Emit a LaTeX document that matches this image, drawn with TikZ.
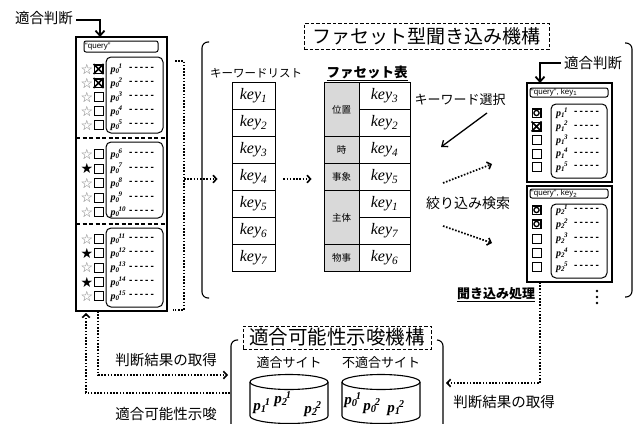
\documentclass[tikz,border=0pt]{standalone}
\usepackage{fontspec}
\setmainfont{Liberation Serif}
\newfontfamily\jp{Noto Sans CJK JP}
\newfontfamily\symf{DejaVu Sans}
\newfontfamily\sansf{Liberation Sans}
\usetikzlibrary{arrows.meta}
\newcommand\pq[2]{p\textsubscript{#1}\kern-0.12em\textsuperscript{#2}}
\newcommand\dshs{-\kern2pt-\kern2pt-\kern2pt-\kern2pt-}
\tikzset{
  x=1pt,y=-1pt,
  jlbl/.style={font=\jp\fontsize{14.5}{14.5}\selectfont, inner sep=0pt},
  outbox/.style={draw, line width=1.1pt, inner sep=0pt},
  rbox/.style={draw, line width=1pt, rounded corners=5pt, inner sep=0pt},
  qbox/.style={draw, line width=1pt, rounded corners=2pt, inner sep=0pt},
  cbx/.style={draw, line width=0.8pt, minimum size=9pt, inner sep=0pt},
  cbxb/.style={draw, line width=1.5pt, minimum size=8.5pt, inner sep=0pt},
  starw/.style={font=\symf\fontsize{14}{14}\selectfont, text=black!55, inner sep=0pt},
  starb/.style={font=\symf\fontsize{14}{14}\selectfont, text=black, inner sep=0pt},
  plab/.style={font=\bfseries\itshape\fontsize{10}{10}\selectfont, inner sep=0pt, anchor=west},
  dshlab/.style={font=\sansf\bfseries\fontsize{10}{10}\selectfont, inner sep=0pt, anchor=west},
  dotln/.style={line width=1.7pt, dash pattern=on 1.6pt off 1.6pt},
  dtip/.style={-{Straight Barb[length=3.5pt,width=7.5pt,line width=1.6pt]}},
  keycell/.style={draw, line width=0.8pt, minimum width=43pt, minimum height=27pt, inner sep=0pt, font=\itshape\fontsize{16}{16}\selectfont},
  fkcell/.style={draw, line width=0.8pt, minimum width=51pt, minimum height=27pt, inner sep=0pt, font=\itshape\fontsize{16}{16}\selectfont},
  catcell/.style={draw, line width=0.8pt, fill=black!15, minimum width=35pt, inner sep=0pt, font=\jp\fontsize{9.5}{9.5}\selectfont},
  qtext/.style={font=\sansf\fontsize{8}{8}\selectfont, inner sep=0pt, anchor=west},
  ttl/.style={draw, dash pattern=on 3.5pt off 2pt, line width=0.9pt, inner sep=0pt, font=\jp\fontsize{19}{19}\selectfont},
  brk/.style={line width=1.1pt, rounded corners=6pt},
  cyl/.style={line width=1.1pt},
  cyltext/.style={font=\bfseries\itshape\fontsize{15}{15}\selectfont, inner sep=0pt},
}
\newcommand\lrow[4]{%
  \ifnum#2=1\relax \node[starb] (st#4) at (87,#1) {★};\else \node[starw] (st#4) at (87,#1) {☆};\fi
  \ifnum#3=1\relax
    \node[cbxb] (cb#4) at (98.5,#1) {};
    \draw[line width=1.5pt] (cb#4.north west)--(cb#4.south east) (cb#4.north east)--(cb#4.south west);
  \else \node[cbx] (cb#4) at (98.5,#1) {};\fi
  \node[plab] (pl#4) at (110.5,#1) {\pq{0}{#4}};
  \node[dshlab] (dl#4) at (129,#1) {\dshs};
}
\newcommand\rrow[4]{%
  \ifcase#2\relax \node[cbx] (rc#3x#4) at (536.5,#1) {};
  \or \node[cbxb] (rc#3x#4) at (536.5,#1) {}; \draw[line width=1.3pt] (rc#3x#4.center) circle (2.6pt);
  \or \node[cbxb] (rc#3x#4) at (536.5,#1) {};
      \draw[line width=1.5pt] (rc#3x#4.north west)--(rc#3x#4.south east) (rc#3x#4.north east)--(rc#3x#4.south west);
  \fi
  \node[plab] (rp#3x#4) at (556,#1) {\pq{#3}{#4}};
  \node[dshlab] (rd#3x#4) at (574,#1) {\dshs};
}
\begin{document}
\begin{tikzpicture}
\useasboundingbox (0,0) rectangle (637,423);
\fill[white] (0,0) rectangle (637,423);

% ---------- left panel ----------
\node[jlbl] (jl1) at (44,18) {適合判断};
\node[outbox, minimum width=91pt, minimum height=274pt] (lpanel) at (121.5,174) {};
\coordinate (a1) at (100,37);
\draw[line width=1.8pt, -{Straight Barb[length=5pt,width=9pt]}] ([xshift=3pt,yshift=-2pt]jl1.east) -| (a1);
\node[qbox, minimum width=74pt, minimum height=11pt] (lq) at (121,46.5) {};
\node[qtext] (lqt) at (85,46.5) {“query”};
\draw[line width=1.2pt, dash pattern=on 4pt off 2.5pt] (76,138) -- (167,138);
\draw[line width=1.2pt, dash pattern=on 4pt off 2.5pt] (76,224) -- (167,224);
\node[rbox, minimum width=57pt, minimum height=76pt] (ls1) at (134.5,95) {};
\node[rbox, minimum width=57pt, minimum height=76pt] (ls2) at (134.5,180) {};
\node[rbox, minimum width=57pt, minimum height=79pt] (ls3) at (134.5,267.5) {};
\lrow{69}{0}{1}{1}
\lrow{83}{0}{1}{2}
\lrow{97}{0}{0}{3}
\lrow{111}{0}{0}{4}
\lrow{125}{0}{0}{5}
\lrow{154}{0}{0}{6}
\lrow{168.5}{1}{0}{7}
\lrow{183}{0}{0}{8}
\lrow{197.5}{0}{0}{9}
\lrow{212}{0}{0}{10}
\lrow{239}{0}{0}{11}
\lrow{253}{1}{0}{12}
\lrow{267.5}{0}{0}{13}
\lrow{282}{1}{0}{14}
\lrow{296}{0}{0}{15}

% dotted bracket right of left panel
\coordinate (db1) at (175,61);
\coordinate (db2) at (184,61);
\coordinate (db3) at (184,310);
\coordinate (db4) at (173,310);
\coordinate (dbm) at (184,179);
\draw[dotln] (db1) -- (db2) -- (db3) -- (db4);

% ---------- facet mechanism ----------
\node[ttl, minimum width=245pt, minimum height=26pt] (ftitle) at (426.5,36.5) {ファセット型聞き込み機構};
\draw[brk] (209,42) -- (202,42) -- (202,298) -- (209,298);
\draw[brk] (625,43) -- (632,43) -- (632,297) -- (625,297);

\node[font=\jp\fontsize{11.5}{11.5}\selectfont, inner sep=0pt] (klt) at (256,73) {キーワードリスト};
\node[font=\jp\bfseries\fontsize{13.5}{13.5}\selectfont, inner sep=0pt] (ftt) at (367,73) {\underline{ファセット表}};

\node[keycell] (k1) at (253.5,96) {key\textsubscript{1}};
\node[keycell] (k2) at (253.5,123) {key\textsubscript{2}};
\node[keycell] (k3) at (253.5,150) {key\textsubscript{3}};
\node[keycell] (k4) at (253.5,177) {key\textsubscript{4}};
\node[keycell] (k5) at (253.5,204) {key\textsubscript{5}};
\node[keycell] (k6) at (253.5,231) {key\textsubscript{6}};
\node[keycell] (k7) at (253.5,258) {key\textsubscript{7}};

\node[catcell, minimum height=54pt] (c1) at (341.5,109.5) {位置};
\node[catcell, minimum height=27pt] (c2) at (341.5,150) {時};
\node[catcell, minimum height=27pt] (c3) at (341.5,177) {事象};
\node[catcell, minimum height=54pt] (c4) at (341.5,217.5) {主体};
\node[catcell, minimum height=27pt] (c5) at (341.5,258) {物事};
\node[fkcell] (f1) at (384.5,96) {key\textsubscript{3}};
\node[fkcell] (f2) at (384.5,123) {key\textsubscript{2}};
\node[fkcell] (f3) at (384.5,150) {key\textsubscript{4}};
\node[fkcell] (f4) at (384.5,177) {key\textsubscript{5}};
\node[fkcell] (f5) at (384.5,204) {key\textsubscript{1}};
\node[fkcell] (f6) at (384.5,231) {key\textsubscript{7}};
\node[fkcell] (f7) at (384.5,258) {key\textsubscript{6}};

\draw[dotln,dtip] (dbm) -- ([xshift=-14pt,yshift=-2pt]k4.west);
\draw[dotln,dtip] ([xshift=8pt,yshift=-2pt]k4.east) -- ([xshift=-12pt,yshift=-2pt]c3.west);

\node[font=\jp\fontsize{13}{13}\selectfont, inner sep=0pt] (kws) at (460,100) {キーワード選択};
\coordinate (kwa) at (487,113);
\coordinate (kwb) at (441,147);
\draw[line width=1.3pt, -{Straight Barb[length=5pt,width=8pt]}] (kwa) -- (kwb);
\node[font=\jp\fontsize{14}{14}\selectfont, inner sep=0pt] (srch) at (468,203) {絞り込み検索};
\coordinate (sa1) at (443,183);
\coordinate (sb1) at (492,164);
\coordinate (sa2) at (443,226);
\coordinate (sb2) at (492,243);

% right boxes
\node[jlbl] (jl2) at (593,63) {適合判断};
\node[outbox, minimum width=85pt, minimum height=99pt] (rb1) at (569.5,132.5) {};
\node[outbox, minimum width=85pt, minimum height=96pt] (rb2) at (569.5,234) {};
\coordinate (a2) at (540,83);
\draw[line width=1.8pt, -{Straight Barb[length=5pt,width=9pt]}] ([xshift=-3pt]jl2.west) -| (a2);
\node[qbox, minimum width=78pt, minimum height=9pt] (rq1) at (569,92.5) {};
\node[qtext] (rqt1) at (531,92.5) {“query”, key\textsubscript{1}};
\node[qbox, minimum width=78pt, minimum height=9pt] (rq2) at (569,193.5) {};
\node[qtext] (rqt2) at (531,193.5) {“query”, key\textsubscript{2}};
\node[rbox, minimum width=56pt, minimum height=74pt] (rs1) at (579,141) {};
\node[rbox, minimum width=56pt, minimum height=74pt] (rs2) at (579,241) {};
\rrow{113}{1}{1}{1}
\rrow{126.5}{2}{1}{2}
\rrow{140}{0}{1}{3}
\rrow{153.5}{0}{1}{4}
\rrow{167}{0}{1}{5}
\rrow{210}{1}{2}{1}
\rrow{224}{1}{2}{2}
\rrow{238.5}{0}{2}{3}
\rrow{253}{0}{2}{4}
\rrow{267}{0}{2}{5}

\draw[dotln,dtip] (sa1) -- (sb1);
\draw[dotln,dtip] (sa2) -- (sb2);

\foreach \yy in {291,297,303} \fill (597,\yy) circle (1.3pt);
\node[font=\jp\bfseries\fontsize{13}{13}\selectfont, inner sep=0pt] (kproc) at (496,295) {\underline{聞き込み処理}};

% ---------- suggestion mechanism ----------
\node[ttl, minimum width=188pt, minimum height=23pt, font=\jp\fontsize{19.5}{19.5}\selectfont] (stitle) at (337,337.5) {適合可能性示唆機構};
\draw[brk] (238,340) -- (231,340) -- (231,440);
\draw[brk] (437,340) -- (443,340) -- (443,440);
\node[font=\jp\fontsize{13}{13}\selectfont, inner sep=0pt] (okl) at (289,363) {適合サイト};
\node[font=\jp\fontsize{13}{13}\selectfont, inner sep=0pt] (ngl) at (381,363) {不適合サイト};

% cylinders
\draw[cyl] (289,382) ellipse [x radius=39pt, y radius=7.5pt];
\draw[cyl] (250,382) -- (250,416) arc[start angle=180, end angle=360, x radius=39pt, y radius=7.5pt] -- (328,382);
\draw[cyl] (381,382) ellipse [x radius=39pt, y radius=7.5pt];
\draw[cyl] (342,382) -- (342,416) arc[start angle=180, end angle=360, x radius=39pt, y radius=7.5pt] -- (420,382);
\node[cyltext] (cy1) at (262,406) {\pq{1}{1}};
\node[cyltext] (cy2) at (283,399) {\pq{2}{1}};
\node[cyltext] (cy3) at (313,409) {\pq{2}{2}};
\node[cyltext] (cy4) at (353,400) {\pq{0}{1}};
\node[cyltext] (cy5) at (372,406) {\pq{0}{2}};
\node[cyltext] (cy6) at (396,408) {\pq{1}{2}};

% bottom connectors
\coordinate (lb1) at (98,311);
\coordinate (bl1) at (228,375);
\coordinate (bl2) at (230,393);
\coordinate (lb2) at (86,313);
\draw[dotln,dtip] (lb1) |- (bl1);
\draw[dotln,dtip] (bl2) -| (lb2);
\node[jlbl] (jr1) at (166,360) {判断結果の取得};
\node[jlbl] (jr2) at (166,414) {適合可能性示唆};
\coordinate (rb2b) at (540,282);
\coordinate (br1) at (446,383);
\draw[dotln,dtip] (rb2b) |- (br1);
\node[jlbl] (jr3) at (504,402) {判断結果の取得};
\end{tikzpicture}
\end{document}
